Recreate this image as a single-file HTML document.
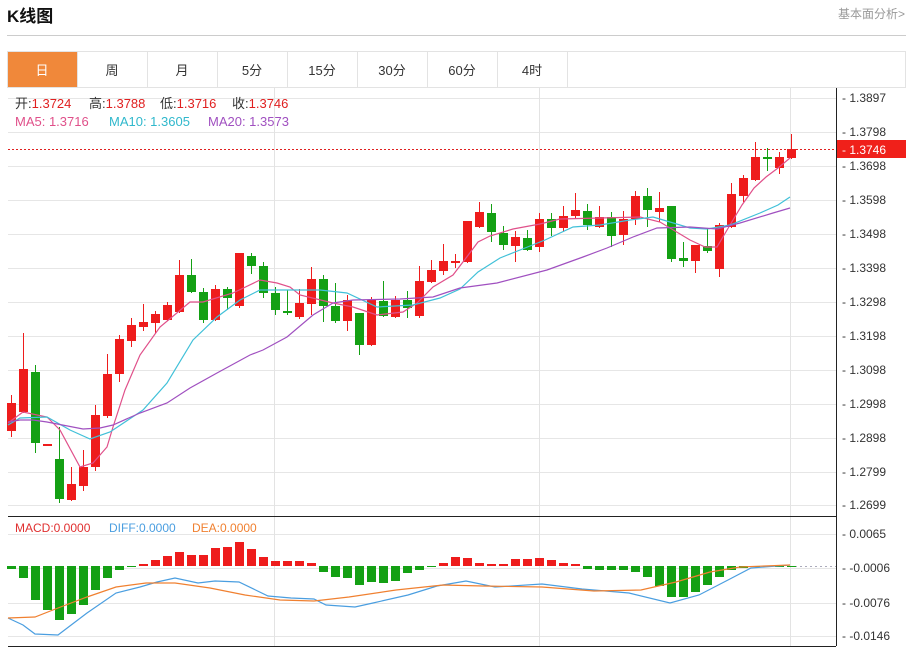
<!DOCTYPE html>
<html><head><meta charset="utf-8"><style>
body{margin:0;background:#fff;width:913px;height:648px;overflow:hidden;font-family:"Liberation Sans","Noto Sans CJK SC",sans-serif;}
svg{position:absolute;left:0;top:0}
</style></head><body>
<svg id="s" width="913" height="648" xmlns="http://www.w3.org/2000/svg" font-family="Liberation Sans, Noto Sans CJK SC, sans-serif">
<text x="7" y="22" font-size="17" font-weight="bold" fill="#111">K线图</text>
<text x="838" y="18" font-size="12" fill="#999">基本面分析&gt;</text>
<line x1="7" y1="35.5" x2="906" y2="35.5" stroke="#ccc"/>
<rect x="7.5" y="51.5" width="898" height="36" fill="#fff" stroke="#e3e3e3"/>
<rect x="8" y="52" width="69" height="35" fill="#f0883a"/>
<g font-size="13" fill="#333" text-anchor="middle">
<text x="42" y="75" fill="#fff">日</text><text x="112" y="75">周</text><text x="182" y="75">月</text><text x="252" y="75">5分</text><text x="322" y="75">15分</text><text x="392" y="75">30分</text><text x="462" y="75">60分</text><text x="532" y="75">4时</text>
</g>
<g stroke="#e3e3e3"><line x1="77.5" y1="52" x2="77.5" y2="87"/><line x1="147.5" y1="52" x2="147.5" y2="87"/><line x1="217.5" y1="52" x2="217.5" y2="87"/><line x1="287.5" y1="52" x2="287.5" y2="87"/><line x1="357.5" y1="52" x2="357.5" y2="87"/><line x1="427.5" y1="52" x2="427.5" y2="87"/><line x1="497.5" y1="52" x2="497.5" y2="87"/><line x1="567.5" y1="52" x2="567.5" y2="87"/></g>
<g id="grid"></g>
<g id="cand"></g>
<g id="lines" fill="none"></g>
<line x1="8" y1="149.5" x2="836" y2="149.5" stroke="#e02020" stroke-dasharray="2,2"/>
<line x1="836.5" y1="88" x2="836.5" y2="646" stroke="#222"/>
<line x1="8" y1="516.5" x2="836" y2="516.5" stroke="#222"/>
<line x1="8" y1="646.5" x2="836" y2="646.5" stroke="#222"/>
<rect x="837" y="140" width="69" height="18" fill="#f0201a"/>
<text x="842" y="154" font-size="12" fill="#fff">- 1.3746</text>
<g font-size="13">
<text x="15" y="108" fill="#333">开:<tspan fill="#e02020">1.3724</tspan></text>
<text x="89" y="108" fill="#333">高:<tspan fill="#e02020">1.3788</tspan></text>
<text x="160" y="108" fill="#333">低:<tspan fill="#e02020">1.3716</tspan></text>
<text x="232" y="108" fill="#333">收:<tspan fill="#e02020">1.3746</tspan></text>
<text x="15" y="126" fill="#e0508a">MA5: 1.3716</text>
<text x="109" y="126" fill="#30b8cc">MA10: 1.3605</text>
<text x="208" y="126" fill="#a050c0">MA20: 1.3573</text>
<text x="15" y="532" font-size="12" fill="#e03030">MACD:0.0000</text>
<text x="109" y="532" font-size="12" fill="#4a9ee0">DIFF:0.0000</text>
<text x="192" y="532" font-size="12" fill="#f08030">DEA:0.0000</text>
</g>
<g id="ax" font-size="12" fill="#333"></g>
</svg>
<script>
var NS="http://www.w3.org/2000/svg";
function el(p,t,a,txt){var e=document.createElementNS(NS,t);for(var k in a)e.setAttribute(k,a[k]);if(txt)e.textContent=txt;document.getElementById(p).appendChild(e);}
var ticks=[["1.3897",98],["1.3798",132],["1.3698",166],["1.3598",200],["1.3498",234],["1.3398",268],["1.3298",302],["1.3198",336],["1.3098",370],["1.2998",404],["1.2898",438],["1.2799",472],["1.2699",505]];
ticks.forEach(function(t){el("grid","line",{x1:8,x2:836,y1:t[1]+.5,y2:t[1]+.5,stroke:"#e6e6e6"});el("ax","text",{x:842,y:t[1]+4},"- "+t[0]);});
var mt=[["0.0065",534],["-0.0006",568],["-0.0076",603],["-0.0146",636]];
mt.forEach(function(t){el("grid","line",{x1:8,x2:836,y1:t[1]+.5,y2:t[1]+.5,stroke:"#e6e6e6"});el("ax","text",{x:842,y:t[1]+4},"- "+t[0]);});
[274,539,790].forEach(function(x){el("grid","line",{x1:x+.5,x2:x+.5,y1:88,y2:646,stroke:"#e3e3e3"});});
el("grid","line",{x1:790,x2:836,y1:566.5,y2:566.5,stroke:"#aab",'stroke-dasharray':"2,3"});
var C=[[403,431,395,437,1],[369,412,333,413,1],[372,443,365,453,0],[444,446,444,446,1],[459,499,427,503,0],[484,500,467,501,1],[467,486,450,491,1],[415,467,405,471,1],[374,416,354,418,1],[339,374,335,382,1],[325,341,318,347,1],[322,327,304,331,1],[314,323,311,333,1],[305,320,302,321,1],[275,312,260,313,1],[275,292,259,293,0],[292,320,288,323,0],[289,320,285,321,1],[289,298,287,310,0],[253,306,253,308,1],[256,266,253,274,0],[266,293,262,298,0],[293,310,287,315,0],[311,313,290,315,0],[303,317,289,319,1],[279,304,267,315,1],[279,306,275,322,0],[306,321,283,323,0],[300,321,295,331,1],[313,345,313,355,0],[300,345,297,346,1],[301,316,281,317,0],[300,317,296,318,1],[300,308,291,318,0],[281,316,266,318,1],[270,282,260,283,1],[261,271,244,275,1],[261,263,254,268,1],[221,262,221,263,1],[212,227,202,228,1],[213,232,204,242,0],[233,245,226,250,0],[237,246,231,262,1],[238,250,230,251,0],[219,247,213,252,1],[219,228,213,236,0],[216,228,206,232,1],[210,216,193,219,1],[211,225,204,230,0],[217,227,206,228,1],[217,236,212,247,0],[219,235,211,245,1],[196,219,191,225,1],[196,210,188,227,0],[208,212,192,222,1],[206,259,206,262,0],[258,261,242,267,0],[245,261,245,273,1],[246,251,228,253,0],[225,269,223,277,1],[194,227,183,228,1],[178,196,175,202,1],[157,180,142,181,1],[157,159,148,171,0],[157,168,152,174,1],[149,158,134,159,1]];
C.forEach(function(c,i){var x=11+12*i,col=c[4]?"#ee1c1c":"#14a014";
el("cand","line",{x1:x+.5,x2:x+.5,y1:c[2],y2:c[3],stroke:col});
el("cand","rect",{x:x-4,y:c[0],width:9,height:Math.max(2,c[1]-c[0]),fill:col});});
var M=[569,578,600,610,620,614,605,590,578,570,567,564,560,556,552,555,555,548,547,542,549,557,561,561,561,563,572,577,578,585,582,583,581,573,570,567,563,557,558,563,564,564,559,559,558,560,563,564,569,570,570,570,572,577,586,597,597,592,585,577,570,568,567,567,567,567];
M.forEach(function(v,i){var x=11+12*i,z=566;var up=v<z;
el("cand","rect",{x:x-4,y:Math.min(v,z),width:9,height:Math.max(1,Math.abs(v-z)),fill:up?"#ee1c1c":"#14a014"});});
function pl(pts,col){el("lines","polyline",{points:pts.map(function(p){return p.join(",")}).join(" "),stroke:col,'stroke-width':1.2});}
pl([[8,423],[23,412],[47,417],[60,430],[80,467],[93,463],[107,447],[113,427],[125,390],[140,355],[160,327],[190,302],[203,302],[233,293],[260,280],[277,283],[290,287],[300,295],[333,303],[353,307],[377,315],[403,312],[417,303],[433,287],[453,275],[466,258],[478,242],[490,236],[513,229],[540,224],[560,219],[600,218],[640,217],[660,222],[690,240],[705,247],[717,247],[730,225],[742,205],[754,188],[766,177],[778,168],[790,158]],"#e0508a");
pl([[8,425],[20,418],[47,417],[70,430],[90,439],[110,432],[143,410],[167,383],[193,340],[217,317],[240,300],[260,290],[290,290],[320,290],[347,293],[377,307],[413,305],[440,298],[460,289],[478,272],[500,258],[520,250],[545,240],[573,227],[600,225],[630,220],[653,217],[670,222],[690,228],[707,229],[730,225],[760,213],[778,205],[790,197]],"#40c0d8");
pl([[8,422],[20,420],[33,420],[47,422],[83,429],[100,428],[113,425],[140,413],[167,403],[190,388],[217,373],[250,355],[263,350],[287,337],[313,315],[333,303],[353,300],[400,299],[433,297],[460,288],[497,283],[547,270],[583,257],[607,248],[633,237],[657,228],[690,227],[717,229],[740,223],[773,213],[790,208]],"#a050c0");
pl([[8,618],[23,625],[35,634],[58,635],[87,613],[116,593],[140,587],[157,582],[175,578],[198,583],[215,581],[239,582],[268,596],[291,598],[314,599],[326,605],[355,607],[373,603],[408,595],[437,586],[466,581],[495,587],[542,584],[582,589],[629,593],[670,603],[699,595],[728,580],[751,568],[790,565]],"#4a9ee0");
pl([[8,618],[35,617],[58,608],[87,597],[116,587],[146,583],[175,583],[210,588],[245,595],[280,600],[314,601],[349,597],[396,590],[443,585],[483,586],[542,587],[594,591],[641,590],[676,582],[710,572],[740,567],[790,565]],"#f08030");
</script>
</body></html>
